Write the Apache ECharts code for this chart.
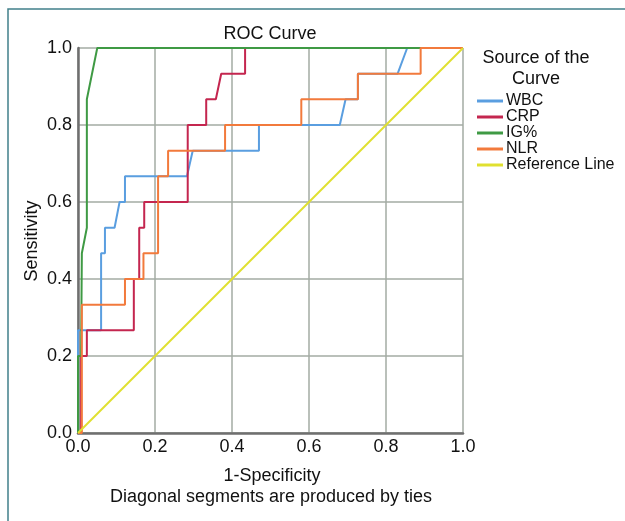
<!DOCTYPE html>
<html>
<head>
<meta charset="utf-8">
<script src="https://cdn.jsdelivr.net/npm/echarts@6/dist/echarts.min.js"></script>
<style>
html,body{margin:0;padding:0;background:#fff;}
#chart{width:625px;height:521px;}
</style>
</head>
<body>
<div id="chart"></div>
<script>
// ---- data (1-Specificity, Sensitivity) ----
const seriesNames = ['WBC', 'CRP', 'IG%', 'NLR', 'Reference Line'];
const tickValues = [0, 0.2, 0.4, 0.6, 0.8, 1.0];

const wbcPoints = [
  [0, 0], [0, 0.267], [0.06, 0.267], [0.06, 0.467], [0.07, 0.467], [0.07, 0.533],
  [0.095, 0.533], [0.108, 0.6], [0.122, 0.6], [0.122, 0.667], [0.283, 0.667],
  [0.298, 0.733], [0.47, 0.733], [0.47, 0.8], [0.68, 0.8], [0.695, 0.867],
  [0.727, 0.867], [0.727, 0.933], [0.83, 0.933], [0.855, 1.0], [1, 1]
];
const crpPoints = [
  [0, 0], [0.008, 0], [0.008, 0.2], [0.023, 0.2], [0.023, 0.267], [0.145, 0.267],
  [0.145, 0.4], [0.159, 0.4], [0.159, 0.533], [0.172, 0.533], [0.172, 0.6],
  [0.285, 0.6], [0.285, 0.8], [0.333, 0.8], [0.333, 0.867], [0.358, 0.867],
  [0.372, 0.933], [0.434, 0.933], [0.434, 1.0], [1, 1]
];
const igPoints = [
  [0, 0], [0, 0.2], [0.008, 0.2], [0.01, 0.467], [0.023, 0.533], [0.023, 0.867],
  [0.05, 1.0], [1, 1]
];
const nlrPoints = [
  [0, 0], [0.01, 0], [0.01, 0.333], [0.122, 0.333], [0.122, 0.4], [0.17, 0.4],
  [0.17, 0.467], [0.208, 0.467], [0.208, 0.667], [0.234, 0.667], [0.234, 0.733],
  [0.382, 0.733], [0.382, 0.8], [0.58, 0.8], [0.58, 0.867], [0.727, 0.867],
  [0.727, 0.933], [0.89, 0.933], [0.89, 1.0], [1, 1]
];
const refPoints = [[0, 0], [1, 1]];

const colors = ['#5a9ee0', '#c4264f', '#3f9a44', '#f27a3c', '#e0e030'];
const allPoints = [wbcPoints, crpPoints, igPoints, nlrPoints, refPoints];

const chart = echarts.init(document.getElementById('chart'), null, {renderer: 'canvas'});
const FONT = 'Liberation Sans, Arial, sans-serif';

const option = {
  animation: false,
  backgroundColor: '#ffffff',
  grid: {left: 78, right: 162, top: 48, bottom: 88, containLabel: false},
  xAxis: {
    type: 'value', min: 0, max: 1, interval: 0.2,
    axisLine: {show: true, lineStyle: {color: '#6f6f6f', width: 2.5}},
    axisTick: {show: false},
    axisLabel: {color: '#111', fontSize: 18, fontFamily: FONT, margin: 5,
      formatter: v => v.toFixed(1)},
    splitLine: {show: true, lineStyle: {color: '#a3aba3', width: 1.5}}
  },
  yAxis: {
    type: 'value', min: 0, max: 1, interval: 0.2,
    axisLine: {show: true, lineStyle: {color: '#6f6f6f', width: 2.5}},
    axisTick: {show: false},
    axisLabel: {color: '#111', fontSize: 18, fontFamily: FONT, margin: 6,
      formatter: v => v.toFixed(1)},
    splitLine: {show: true, lineStyle: {color: '#a3aba3', width: 1.5}}
  },
  legend: {
    orient: 'vertical', left: 477, top: 93, padding: 0,
    itemWidth: 26, itemHeight: 3, itemGap: 0,
    icon: 'rect',
    textStyle: {fontSize: 16, fontFamily: FONT, color: '#111', padding: [0, 0, 0, -2], lineHeight: 16},
    data: seriesNames
  },
  series: seriesNames.map((n, i) => ({
    name: n, type: 'line', data: allPoints[i],
    symbol: 'none', showSymbol: false,
    lineStyle: {color: colors[i], width: 2},
    itemStyle: {color: colors[i]},
    z: 2 + i
  })),
  graphic: [
    {type: 'rect', shape: {x: 8, y: 9, width: 700, height: 600},
      style: {fill: 'none', stroke: '#41808a', lineWidth: 1.5}, z: -1},
    {type: 'text', x: 270, y: 34, style: {text: 'ROC Curve', font: '18px ' + FONT, fill: '#111',
      textAlign: 'center', textVerticalAlign: 'middle'}},
    {type: 'text', x: 536, y: 58, style: {text: 'Source of the', font: '18px ' + FONT, fill: '#111',
      textAlign: 'center', textVerticalAlign: 'middle'}},
    {type: 'text', x: 536, y: 79, style: {text: 'Curve', font: '18px ' + FONT, fill: '#111',
      textAlign: 'center', textVerticalAlign: 'middle'}},
    {type: 'text', x: 272, y: 476, style: {text: '1-Specificity', font: '18px ' + FONT, fill: '#111',
      textAlign: 'center', textVerticalAlign: 'middle'}},
    {type: 'text', x: 271, y: 497, style: {text: 'Diagonal segments are produced by ties', font: '18px ' + FONT, fill: '#111',
      textAlign: 'center', textVerticalAlign: 'middle'}},
    {type: 'text', x: 32, y: 241, rotation: Math.PI / 2,
      style: {text: 'Sensitivity', font: '18px ' + FONT, fill: '#111',
      textAlign: 'center', textVerticalAlign: 'middle'}}
  ]
};
chart.setOption(option);
</script>
</body>
</html>
